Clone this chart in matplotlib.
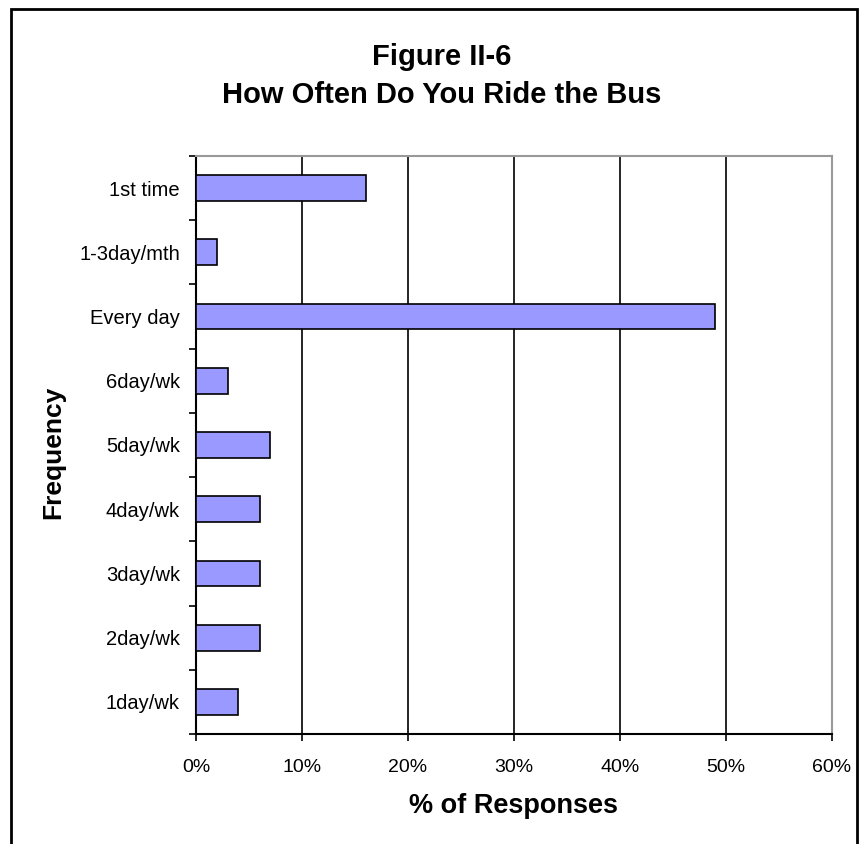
import matplotlib.pyplot as plt
from matplotlib.patches import Rectangle
from matplotlib.ticker import FixedLocator, PercentFormatter

plt.rcParams['font.family'] = ['Liberation Sans', 'DejaVu Sans']

# Survey answers, listed top to bottom as shown on the chart
frequencies = ["1st time", "1-3day/mth", "Every day", "6day/wk", "5day/wk",
               "4day/wk", "3day/wk", "2day/wk", "1day/wk"]
share_pct = [16, 2, 49, 3, 7, 6, 6, 6, 4]

fig = plt.figure(figsize=(8.61, 8.44), dpi=100)
ax = fig.add_axes([0.2276, 0.1303, 0.7387, 0.6849])

ypos = list(range(len(frequencies)))[::-1]
ax.barh(ypos, share_pct, height=0.4, color="#9999ff",
        edgecolor="black", linewidth=1.2, zorder=3)

ax.set_xlim(0, 60)
ax.set_ylim(-0.5, len(frequencies) - 0.5)

# x axis: percent ticks with black vertical gridlines
ax.set_xticks(range(0, 61, 10))
ax.xaxis.set_major_formatter(PercentFormatter(decimals=0))
ax.grid(axis='x', color="black", linewidth=1.2, zorder=1)
ax.tick_params(axis='x', direction='out', length=5, width=1.2,
               pad=13, labelsize=14)

# y axis: tick marks between categories, labels at category centres
ax.yaxis.set_major_locator(FixedLocator([i - 0.5 for i in range(len(frequencies) + 1)]))
ax.yaxis.set_minor_locator(FixedLocator(ypos))
ax.set_yticklabels([], minor=False)
ax.set_yticklabels(frequencies, minor=True)
ax.tick_params(axis='y', which='major', direction='out', length=5, width=1.2)
ax.tick_params(axis='y', which='minor', length=0, pad=11.5, labelsize=14.5)

for side in ('left', 'bottom'):
    ax.spines[side].set_color("black")
    ax.spines[side].set_linewidth(1.5)
for side in ('top', 'right'):
    ax.spines[side].set_color("#999999")
    ax.spines[side].set_linewidth(1.5)

ax.set_xlabel("% of Responses", fontsize=19.5, fontweight='bold', labelpad=12)
fig.text(0.0616, 0.4645, "Frequency", rotation=90, fontsize=19,
         fontweight='bold', ha='center', va='center')

fig.text(0.513, 0.932, "Figure II-6", fontsize=21, fontweight='bold',
         ha='center', va='center')
fig.text(0.513, 0.888, "How Often Do You Ride the Bus", fontsize=21,
         fontweight='bold', ha='center', va='center')

# outer chart frame, open at the bottom
fig.patches.append(Rectangle((11 / 861, -0.05), (857 - 11) / 861,
                             1.05 - 9 / 844, transform=fig.transFigure,
                             fill=False, edgecolor="black", linewidth=2))

fig.savefig("out.png", dpi=100)
